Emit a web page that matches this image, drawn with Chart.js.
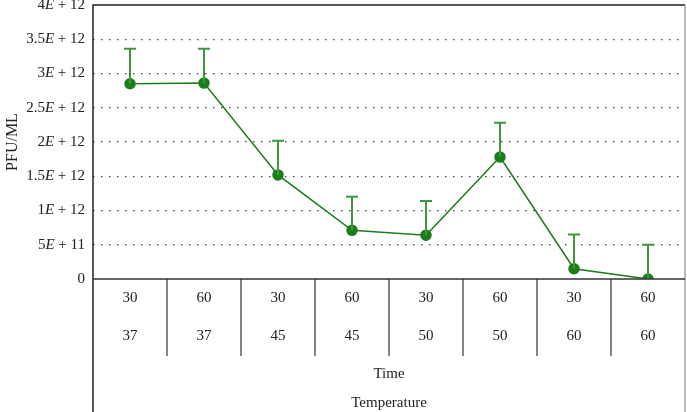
<!DOCTYPE html>
<html>
<head>
<meta charset="utf-8">
<script src="https://cdn.jsdelivr.net/npm/chart.js@4/dist/chart.umd.min.js"></script>
<style>
  html, body { margin: 0; padding: 0; background: #fff; }
  #wrap { width: 687px; height: 412px; }
</style>
</head>
<body>
<div id="wrap"><canvas id="grafica"></canvas></div>
<script>
// datos
const tiempos = ["30", "60", "30", "60", "30", "60", "30", "60"];
const temperaturas = ["37", "37", "45", "45", "50", "50", "60", "60"];
const pfu = [2.85e12, 2.86e12, 1.52e12, 0.71e12, 0.64e12, 1.78e12, 0.15e12, 0];
const errores = [5.1e11, 5e11, 5e11, 4.9e11, 5e11, 5e11, 5e11, 5e11];
const marcasY = [
  ["0", ""], ["5", "E", " + 11"], ["1", "E", " + 12"], ["1.5", "E", " + 12"],
  ["2", "E", " + 12"], ["2.5", "E", " + 12"], ["3", "E", " + 12"], ["3.5", "E", " + 12"], ["4", "E", " + 12"]
];

const fuente = "'Liberation Serif', 'DejaVu Serif', serif";
const verde = "#1b7d1b";

const etiquetas = tiempos.map((t, i) => [t, temperaturas[i]]);

// barras de error, etiquetas del eje y y marco
const extras = {
  id: "extras",
  afterDatasetsDraw(chart) {
    const ctx = chart.ctx;
    const x = chart.scales.x;
    const y = chart.scales.y;
    ctx.save();
    ctx.strokeStyle = "#3f963f";
    ctx.lineWidth = 2;
    for (let i = 0; i < pfu.length; i++) {
      const px = x.getPixelForValue(i);
      const y0 = y.getPixelForValue(pfu[i]);
      const y1 = y.getPixelForValue(pfu[i] + errores[i]);
      ctx.beginPath();
      ctx.moveTo(px, y0);
      ctx.lineTo(px, y1);
      ctx.moveTo(px - 6, y1);
      ctx.lineTo(px + 6, y1);
      ctx.stroke();
    }
    ctx.restore();
  },
  afterDraw(chart) {
    const ctx = chart.ctx;
    const x = chart.scales.x;
    const y = chart.scales.y;
    const area = chart.chartArea;
    ctx.save();
    // marco
    ctx.strokeStyle = "#222";
    ctx.lineWidth = 1.5;
    ctx.beginPath();
    ctx.moveTo(area.left, chart.height);
    ctx.lineTo(area.left, area.top);
    ctx.lineTo(area.right, area.top);
    ctx.stroke();
    ctx.strokeStyle = "#777";
    ctx.lineWidth = 1;
    ctx.beginPath();
    ctx.moveTo(area.right, area.top);
    ctx.lineTo(area.right, chart.height);
    ctx.stroke();
    ctx.strokeStyle = "#333";
    ctx.lineWidth = 1.5;
    ctx.beginPath();
    ctx.moveTo(area.left, area.bottom);
    ctx.lineTo(area.right, area.bottom);
    ctx.stroke();
    // divisiones de la tabla
    ctx.lineWidth = 1.2;
    for (let i = 1; i < tiempos.length; i++) {
      const px = (x.getPixelForValue(i - 1) + x.getPixelForValue(i)) / 2;
      ctx.beginPath();
      ctx.moveTo(px, area.bottom);
      ctx.lineTo(px, area.bottom + 77);
      ctx.stroke();
    }
    // etiquetas del eje y
    ctx.fillStyle = "#222";
    ctx.textBaseline = "middle";
    ctx.textAlign = "left";
    const fuentes = ["15px " + fuente, "italic 15px " + fuente, "15px " + fuente];
    for (let i = 0; i < marcasY.length; i++) {
      const py = y.getPixelForValue(i * 5e11);
      const partes = marcasY[i];
      let ancho = 0;
      partes.forEach((p, k) => { ctx.font = fuentes[k]; ancho += ctx.measureText(p).width; });
      let px = area.left - 8 - ancho;
      partes.forEach((p, k) => {
        ctx.font = fuentes[k];
        ctx.fillText(p, px, py);
        px += ctx.measureText(p).width;
      });
    }
    ctx.restore();
  }
};

new Chart(document.querySelector("#grafica").getContext("2d"), {
  type: "line",
  data: {
    labels: etiquetas,
    datasets: [
      {
        label: "PFU/ML",
        data: pfu,
        borderColor: verde,
        backgroundColor: verde,
        borderWidth: 1.5,
        pointRadius: 5,
        pointHoverRadius: 5,
        fill: false,
        tension: 0,
      },
    ],
  },
  options: {
    responsive: true,
    maintainAspectRatio: false,
    animation: false,
    layout: { autoPadding: false, padding: { top: 5, right: 2, left: 0, bottom: 0 } },
    plugins: {
      legend: { display: false },
      tooltip: { enabled: false },
    },
    scales: {
      x: {
        offset: true,
        border: { display: false },
        grid: { display: false, drawTicks: false, offset: true },
        ticks: {
          color: "#222",
          padding: 0,
          maxRotation: 0,
          autoSkip: false,
          font: { family: fuente, size: 15, lineHeight: 38 / 15 },
        },
        title: {
          display: true,
          text: ["Time", "Temperature"],
          color: "#222",
          font: { family: fuente, size: 15, lineHeight: 29 / 15 },
          padding: { top: 0, bottom: -6 },
        },
        afterFit(scale) { scale.height = 133; },
      },
      y: {
        min: 0,
        max: 4e12,
        border: { display: false, dash: [1.5, 6.5] },
        ticks: { display: false, stepSize: 5e11 },
        grid: {
          drawTicks: false,
          color: (c) => (c.tick && (c.tick.value === 0 || c.tick.value === 4e12)) ? "rgba(0,0,0,0)" : "#444",
          lineWidth: 1.2,
        },
        title: {
          display: true,
          text: "PFU/ML",
          color: "#222",
          font: { family: fuente, size: 16 },
          padding: { top: 3, bottom: 0 },
        },
        afterFit(scale) { scale.width = 93; },
      },
    },
  },
  plugins: [extras],
});
</script>
</body>
</html>
